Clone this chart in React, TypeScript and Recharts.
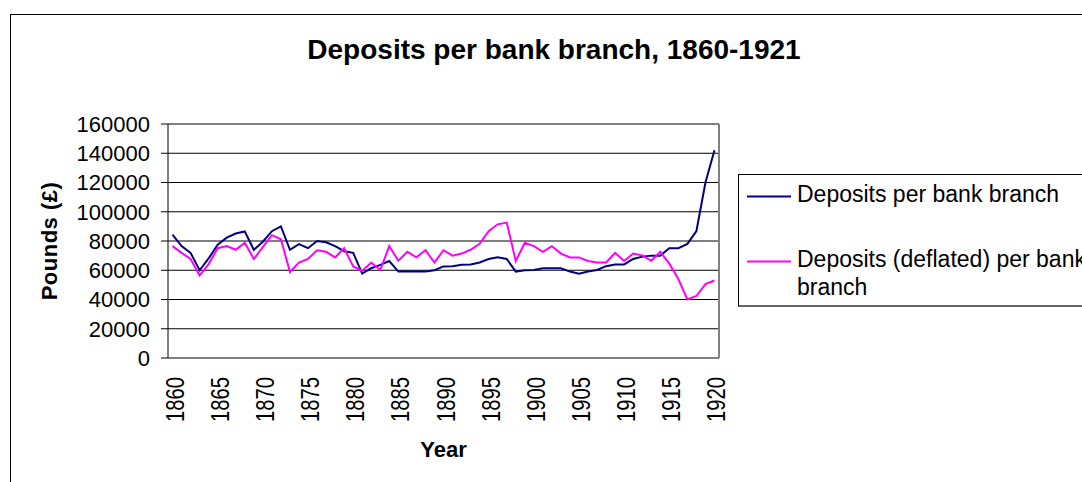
import { LineChart, Line, XAxis, YAxis, CartesianGrid, Legend, ReferenceLine } from "recharts";

const years = [
  1860, 1861, 1862, 1863, 1864, 1865, 1866, 1867, 1868, 1869,
  1870, 1871, 1872, 1873, 1874, 1875, 1876, 1877, 1878, 1879,
  1880, 1881, 1882, 1883, 1884, 1885, 1886, 1887, 1888, 1889,
  1890, 1891, 1892, 1893, 1894, 1895, 1896, 1897, 1898, 1899,
  1900, 1901, 1902, 1903, 1904, 1905, 1906, 1907, 1908, 1909,
  1910, 1911, 1912, 1913, 1914, 1915, 1916, 1917, 1918, 1919,
  1920,
];

const deposits = [
  84400, 76500, 71900, 60000, 68100, 77400, 82300, 85100, 86500, 74000,
  79500, 86700, 90000, 74000, 77900, 75100, 80000, 79100, 76500, 73000,
  71900, 57700, 61400, 63700, 66300, 59100, 59100, 59100, 59100, 60000,
  62600, 62800, 63700, 64000, 65300, 67700, 68800, 67700, 59100, 60000,
  60200, 61400, 61400, 61400, 59100, 57700, 59100, 60200, 62800, 64000,
  64000, 67700, 69300, 70000, 70000, 75100, 75100, 78000, 86800, 120000,
  142000,
];

const deflated = [
  76500, 71900, 67700, 56500, 64200, 75100, 76500, 74000, 78800, 67700,
  75800, 84000, 81200, 58800, 65300, 67700, 73700, 72600, 68800, 75100,
  62600, 59500, 65300, 60200, 76500, 66500, 72600, 68800, 73700, 65300,
  73700, 70000, 71400, 74000, 78100, 86700, 91400, 92600, 66300, 78800,
  76500, 72600, 76500, 71400, 68800, 68800, 66300, 65300, 65300, 71900,
  66300, 71400, 70200, 66500, 72600, 64500, 54000, 40000, 42400, 50500,
  53000,
];

const seriesNames = ["Deposits per bank branch", "Deposits (deflated) per bank branch"];
const yearLabels = [1860, 1865, 1870, 1875, 1880, 1885, 1890, 1895, 1900, 1905, 1910, 1915, 1920];
const valueTicks = [0, 20000, 40000, 60000, 80000, 100000, 120000, 140000, 160000];

const data = years.map((year, i) => ({ year, deposits: deposits[i], deflated: deflated[i] }));
// tick marks sit between the years, like the spreadsheet original
const boundaries = [...years.map((y) => y - 0.5), years[years.length - 1] + 0.5];
const xDomain = [boundaries[0], boundaries[boundaries.length - 1]];

const FONT = '"Liberation Sans", Arial, sans-serif';

// the original's rotated year labels are squashed: wide glyphs, short run
const YearTick = ({ x, y, payload }: any) => {
  const ty = y + 19;
  return (
    <text
      x={x}
      y={ty}
      transform={`rotate(-90, ${x}, ${ty})`}
      textAnchor="end"
      dy={11}
      fontSize={26}
      textLength={45}
      lengthAdjust="spacingAndGlyphs"
      fill="#000"
    >
      {payload.value}
    </text>
  );
};

const YearLabel = (props: any) => {
  const vb = props.viewBox || { x: 168, width: 551, y: 358 };
  return (
    <text x={vb.x + vb.width / 2} y={vb.y + 99} textAnchor="middle" fontSize={22} fontWeight="bold" fill="#000">
      Year
    </text>
  );
};

const PoundsLabel = (props: any) => {
  const vb = props.viewBox || { y: 124, height: 234 };
  const cy = vb.y + vb.height / 2;
  return (
    <text x={57} y={cy} transform={`rotate(-90, 57, ${cy})`} textAnchor="middle" fontSize={22} fontWeight="bold" letterSpacing={0.5} fill="#000">
      Pounds (£)
    </text>
  );
};

const renderLegend = ({ payload }: any) => {
  const items = [...(payload || [])].sort((a: any, b: any) => seriesNames.indexOf(a.value) - seriesNames.indexOf(b.value));
  return (
    <div
      style={{
        position: "relative",
        width: 400,
        height: 133,
        boxSizing: "border-box",
        border: "1px solid #000",
        borderBottom: "2px solid #666",
        background: "#fff",
        fontFamily: FONT,
        fontSize: 23,
        lineHeight: "28px",
        color: "#000",
      }}
    >
      {items.map((entry: any, i: number) => (
        <div key={entry.value} style={{ position: "absolute", left: 8, top: i === 0 ? 5 : 70 }}>
          <svg width={44} height={28} style={{ position: "absolute", left: 0, top: 0 }}>
            <line x1={0} x2={44} y1={16.5} y2={16.5} stroke={entry.color} strokeWidth={2} />
          </svg>
          <div style={{ marginLeft: 50, width: 305 }}>{entry.value}</div>
        </div>
      ))}
    </div>
  );
};

export default function App() {
  return (
    <div
      style={{
        position: "fixed",
        left: 0,
        top: 0,
        width: 1082,
        height: 482,
        overflow: "hidden",
        background: "#fff",
        fontFamily: FONT,
      }}
    >
      <div style={{ position: "absolute", left: 10, top: 14, width: 1100, height: 500, border: "1px solid #000" }} />
      <LineChart
        width={1082}
        height={482}
        data={data}
        margin={{ top: 124, right: 363, bottom: 0, left: 0 }}
        style={{ position: "absolute", left: 0, top: 0 }}
      >
        <CartesianGrid vertical={false} stroke="#000" xAxisId="marks" />
        <XAxis
          xAxisId="marks"
          dataKey="year"
          type="number"
          domain={xDomain}
          ticks={boundaries}
          interval={0}
          height={0}
          tickSize={7}
          tickFormatter={() => ""}
          stroke="#000"
        />
        <XAxis
          xAxisId="labels"
          dataKey="year"
          type="number"
          domain={xDomain}
          ticks={yearLabels}
          interval={0}
          height={124}
          axisLine={false}
          tickLine={false}
          tickSize={0}
          tickMargin={0}
          tick={<YearTick />}
          label={(p: any) => <YearLabel {...p} />}
        />
        <YAxis
          width={168}
          domain={[0, 160000]}
          ticks={valueTicks}
          interval={0}
          tickSize={7}
          tickMargin={11}
          stroke="#000"
          tick={{ fontSize: 22, fill: "#000" }}
          label={(p: any) => <PoundsLabel {...p} />}
        />
        <ReferenceLine xAxisId="marks" y={160000} stroke="#808080" strokeWidth={1} />
        <ReferenceLine xAxisId="marks" x={xDomain[1]} stroke="#808080" strokeWidth={2} />
        <Legend
          layout="horizontal"
          align="center"
          verticalAlign="middle"
          content={renderLegend}
          wrapperStyle={{ left: 738, top: 174, width: 400, height: 133 }}
        />
        <Line
          xAxisId="marks"
          type="linear"
          dataKey="deposits"
          name={seriesNames[0]}
          stroke="#000080"
          strokeWidth={2}
          dot={false}
          isAnimationActive={false}
        />
        <Line
          xAxisId="marks"
          type="linear"
          dataKey="deflated"
          name={seriesNames[1]}
          stroke="#ff00ff"
          strokeWidth={2}
          dot={false}
          isAnimationActive={false}
        />
      </LineChart>
      <div
        style={{
          position: "absolute",
          left: 0,
          top: 34,
          width: 1108,
          textAlign: "center",
          fontSize: 28,
          lineHeight: "32px",
          fontWeight: "bold",
          color: "#000",
        }}
      >
        Deposits per bank branch, 1860-1921
      </div>
    </div>
  );
}
